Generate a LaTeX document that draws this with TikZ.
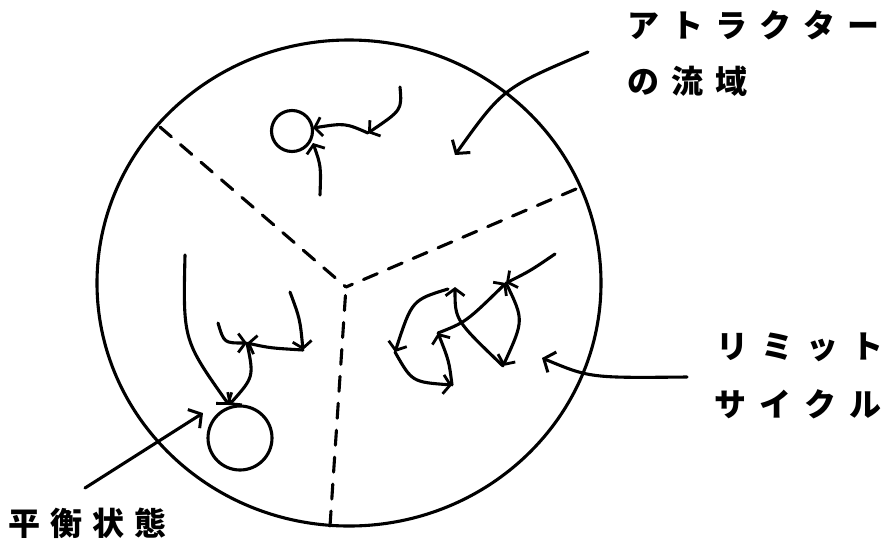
\documentclass[tikz,border=0pt]{standalone}
\usepackage{fontspec}
\newfontfamily\jp{Noto Sans CJK JP}
\usetikzlibrary{arrows.meta}
\begin{document}
\begin{tikzpicture}[x=1pt,y=-1pt,line cap=round,line join=round,
  ink/.style={line width=3.1pt},
  traj/.style={ink,-{Straight Barb[length=7pt,width=19pt,line width=2.8pt]}},
  ptr/.style={ink,-{Straight Barb[length=9pt,width=22pt,line width=3pt]}},
  sep/.style={ink,dash pattern=on 15pt off 12pt},
  lbl/.style={font=\jp\bfseries\fontsize{32}{36}\selectfont,inner sep=0pt,anchor=west},
  loop/.style={ink,draw,circle,inner sep=0pt}]
\useasboundingbox (0,0) rectangle (896,547);
% outer region
\draw[ink] (349,283) ellipse [x radius=252pt, y radius=243pt];
% separatrices
\coordinate (J) at (346,287);
\coordinate (D1) at (160,127);
\coordinate (D2) at (576,189);
\coordinate (D3) at (330,526);
\draw[sep] (D1) -- (J);
\draw[sep] (D2) -- (J);
\draw[sep] (D3) -- (J);
% upper basin: small limit cycle
\node[loop,minimum size=41pt] (cyc) at (292,131) {};
\coordinate (u1) at (400,87);
\coordinate (u2) at (368,133);
\coordinate (u3) at (313,128);
\coordinate (u4) at (320,195);
\coordinate (u5) at (313,143);
\draw[traj] (u1) .. controls (402,110) .. (u2);
\draw[traj] (u2) .. controls (345,123) .. (u3);
\draw[traj] (u4) .. controls (321,166) .. (u5);
% left basin: equilibrium
\node[loop,minimum size=64pt] (eq) at (240,438) {};
\coordinate (e0) at (229,405);
\coordinate (l1) at (185,255);
\coordinate (l2) at (218,323);
\coordinate (lj) at (247,343);
\coordinate (l3) at (303,350);
\coordinate (l4) at (290,292);
\draw[traj] (l1) .. controls (183,340) .. (e0);
\draw[traj] (l2) .. controls (224,343) .. (lj);
\draw[traj] (l3) .. controls (270,348) .. (lj);
\draw[traj] (l4) .. controls (300,319) .. (l3);
\draw[traj] (lj) .. controls (254,377) .. (e0);
% right basin: limit cycle
\coordinate (r1) at (555,254);
\coordinate (rt) at (506,283);
\coordinate (rb) at (503,366);
\coordinate (rl) at (455,287);
\coordinate (r2) at (438,333);
\coordinate (r3) at (452,385);
\coordinate (r4) at (448,289);
\coordinate (r5) at (395,352);
\draw[traj] (r1) .. controls (530,271) .. (rt);
\draw[traj] (rt) .. controls (524,320) .. (rb);
\draw[traj] (rb) .. controls (455,320) .. (rl);
\draw[traj] (r2) .. controls (466,322) .. (rt);
\draw[traj] (r3) .. controls (449,361) .. (r2);
\draw[traj] (r4) .. controls (412,300) .. (r5);
\draw[traj] (r5) .. controls (412,382) .. (r3);
% labels
\node[lbl] (tA) at (627,25) {ア\kern12ptト\kern12ptラ\kern12ptク\kern12ptタ\kern12ptー};
\node[lbl] (tB) at (627,81) {の\kern12pt流\kern12pt域};
\node[lbl] (tC) at (716,347) {リ\kern13ptミ\kern13ptッ\kern13ptト};
\node[lbl] (tD) at (714,404) {サ\kern13ptイ\kern13ptク\kern13ptル};
\node[lbl] (tE) at (8,523) {平\kern10pt衡\kern10pt状\kern10pt態};
% pointers
\coordinate (a1s) at (588,52);
\coordinate (a1e) at (455,155);
\coordinate (a2s) at (687,377);
\coordinate (a2e) at (542,358);
\coordinate (a3s) at (85,488);
\coordinate (a3e) at (203,413);
\draw[ptr] (a1s) .. controls (503,88) .. (a1e);
\draw[ptr] (a2s) .. controls (590,378) .. (a2e);
\draw[ptr] (a3s) -- (a3e);
\end{tikzpicture}
\end{document}
